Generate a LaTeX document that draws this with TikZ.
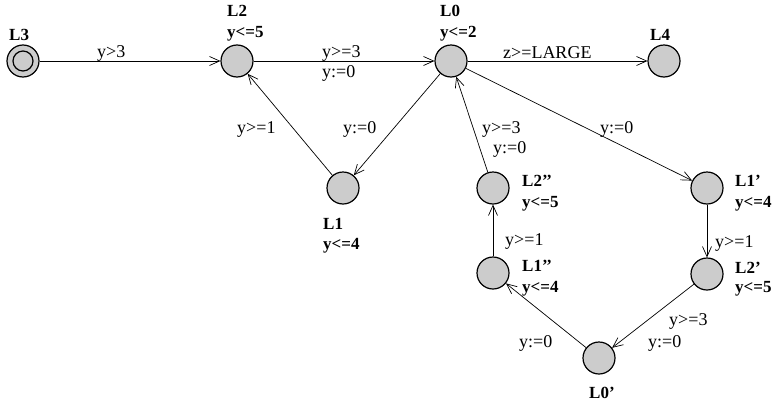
\documentclass[tikz,border=0pt]{standalone}
\usepackage{fontspec}
\setmainfont{Liberation Serif}
\usetikzlibrary{arrows.meta}
\begin{document}
\begin{tikzpicture}[x=1pt,y=-1pt,
  loc/.style={circle,draw=black,line width=1.2pt,fill=black!20,minimum size=32pt,inner sep=0pt},
  tr/.style={draw=black,line width=0.7pt,-{Straight Barb[length=10pt,width=9pt,line width=0.7pt]}},
  nm/.style={anchor=west,inner sep=0pt,font=\fontsize{17}{20}\selectfont\bfseries},
  lb/.style={anchor=west,inner sep=0pt,font=\fontsize{18}{21}\selectfont}]
\useasboundingbox (0,0) rectangle (781,407);
% locations
\node[loc] (L3) at (23,61) {};
\draw[line width=1.2pt] (L3.center) circle (10pt);
\node[loc] (L2) at (237,61) {};
\node[loc] (L0) at (451,61) {};
\node[loc] (L4) at (664,61) {};
\node[loc] (L1) at (343,188) {};
\node[loc] (L2b) at (493,188) {};
\node[loc] (L1b) at (493,273) {};
\node[loc] (L1a) at (707,188) {};
\node[loc] (L2a) at (707,274) {};
\node[loc] (L0a) at (599,358) {};
% location names and invariants
\node[nm] (nL3) at (9,35) {L3};
\node[nm] (nL2) at (227,11) {L2};
\node[nm] (iL2) at (227,34) {y<=5};
\node[nm] (nL0) at (440,11) {L0};
\node[nm] (iL0) at (440,34) {y<=2};
\node[nm] (nL4) at (650,35) {L4};
\node[nm] (nL1) at (323,224) {L1};
\node[nm] (iL1) at (323,246) {y<=4};
\node[nm] (nL2b) at (522,181) {L2’’};
\node[nm] (iL2b) at (522,204) {y<=5};
\node[nm] (nL1b) at (522,266) {L1’’};
\node[nm] (iL1b) at (522,289) {y<=4};
\node[nm] (nL1a) at (735,181) {L1’};
\node[nm] (iL1a) at (735,204) {y<=4};
\node[nm] (nL2a) at (735,268) {L2’};
\node[nm] (iL2a) at (735,289) {y<=5};
\node[nm] (nL0a) at (589,393) {L0’};
% transitions
\draw[tr] (L3) -- (L2);
\draw[tr] (L2) -- (L0);
\draw[tr] (L0) -- (L4);
\draw[tr] (L1) -- (L2);
\draw[tr] (L0) -- (L1);
\draw[tr] (L2b) -- (L0);
\draw[tr] (L0) -- (L1a);
\draw[tr] (L1b) -- (L2b);
\draw[tr] (L1a) -- (L2a);
\draw[tr] (L2a) -- (L0a);
\draw[tr] (L0a) -- (L1b);
% transition labels
\node[lb] (g1) at (97,53) {y>3};
\node[lb] (g2) at (322,53) {y>=3};
\node[lb] (u2) at (322,73) {y:=0};
\node[lb] (g3) at (503,53) {z>=LARGE};
\node[lb] (g4) at (237,129) {y>=1};
\node[lb] (u5) at (343,129) {y:=0};
\node[lb] (g6) at (482,129) {y>=3};
\node[lb] (u6) at (493,149) {y:=0};
\node[lb] (u7) at (600,129) {y:=0};
\node[lb] (g8) at (505,241) {y>=1};
\node[lb] (g9) at (715,243) {y>=1};
\node[lb] (g10) at (669,321) {y>=3};
\node[lb] (u10) at (648,343) {y:=0};
\node[lb] (u11) at (519,343) {y:=0};
\end{tikzpicture}
\end{document}
